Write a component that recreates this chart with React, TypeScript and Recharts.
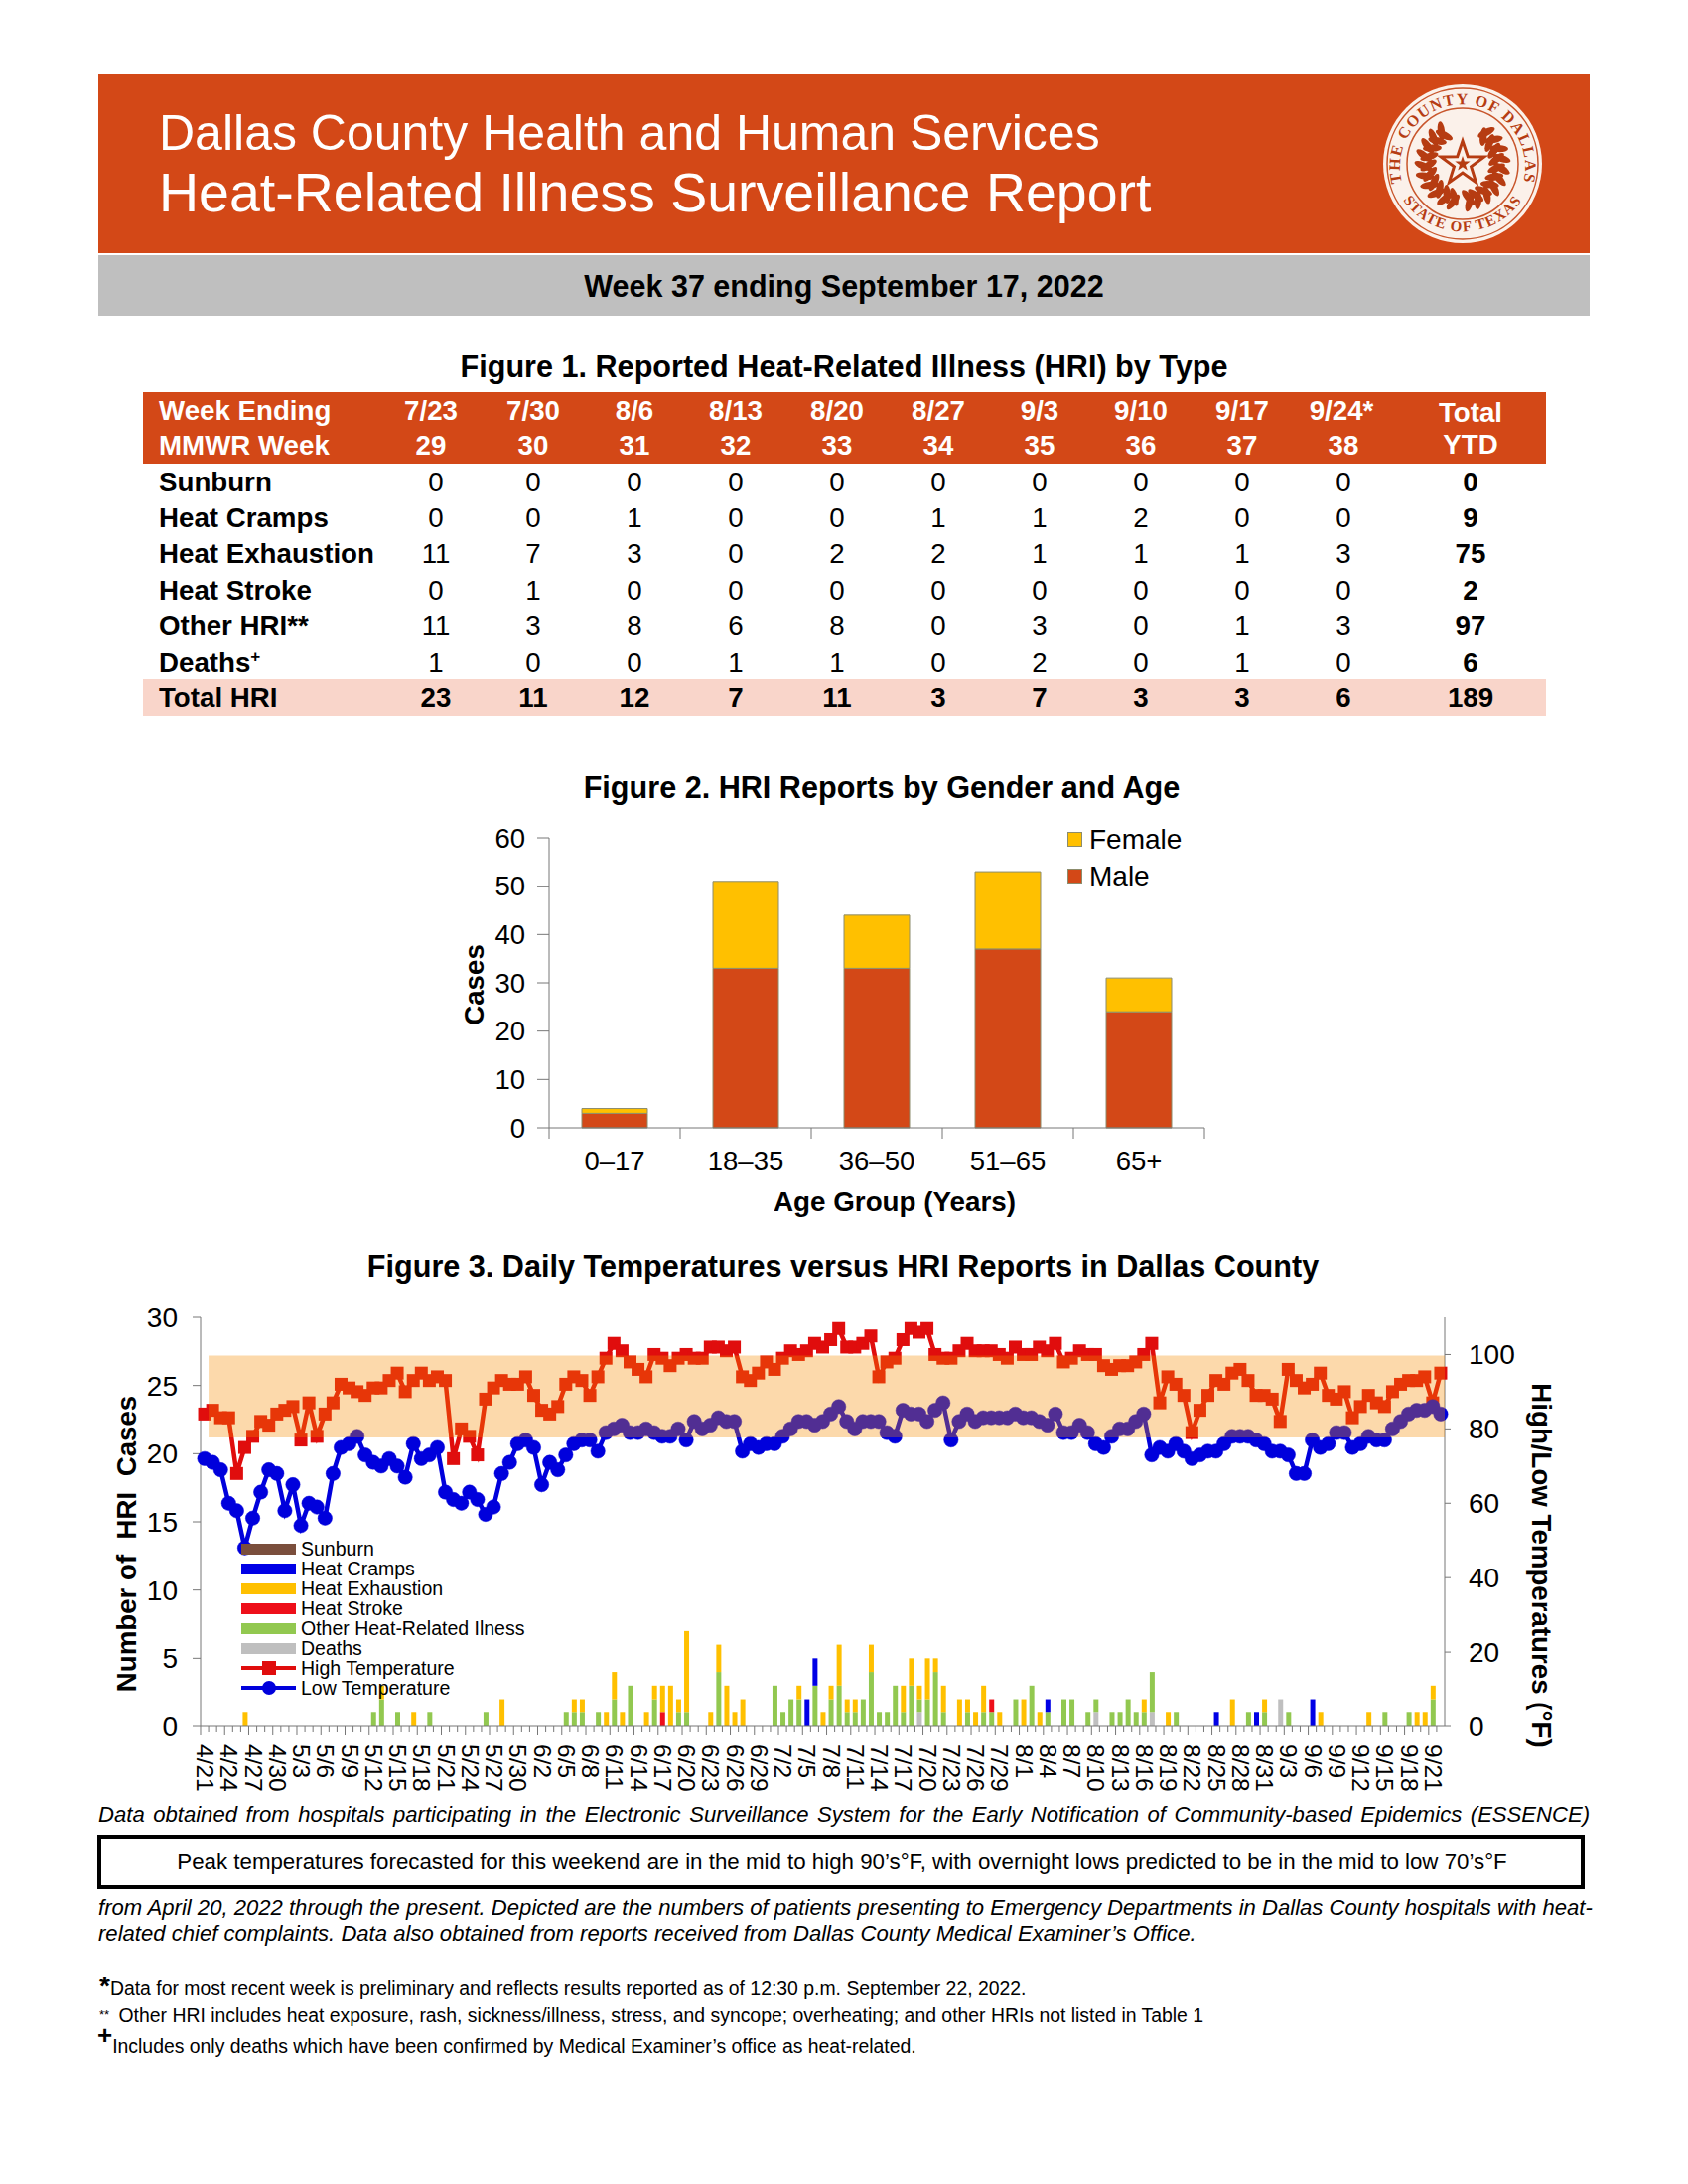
import React from "react";
import {
  BarChart,
  Bar,
  ComposedChart,
  Line,
  XAxis,
  YAxis,
  Legend,
  Label,
  ReferenceArea,
} from "recharts";

const FONT = '"Liberation Sans", Arial, sans-serif';
const ORANGE = "#D34817";
const AXIS = "#777777";

// Figure 1 table
const weekEnding = ["7/23", "7/30", "8/6", "8/13", "8/20", "8/27", "9/3", "9/10", "9/17", "9/24*"];
const mmwrWeek = ["29", "30", "31", "32", "33", "34", "35", "36", "37", "38"];
const rowSunburn = [0, 0, 0, 0, 0, 0, 0, 0, 0, 0, 0];
const rowCramps = [0, 0, 1, 0, 0, 1, 1, 2, 0, 0, 9];
const rowExhaustion = [11, 7, 3, 0, 2, 2, 1, 1, 1, 3, 75];
const rowStroke = [0, 1, 0, 0, 0, 0, 0, 0, 0, 0, 2];
const rowOther = [11, 3, 8, 6, 8, 0, 3, 0, 1, 3, 97];
const rowDeaths = [1, 0, 0, 1, 1, 0, 2, 0, 1, 0, 6];
const rowTotal = [23, 11, 12, 7, 11, 3, 7, 3, 3, 6, 189];

// Figure 2
const ageGroups = ["0–17", "18–35", "36–50", "51–65", "65+"];
const male = [3, 33, 33, 37, 24];
const female = [1, 18, 11, 16, 7];

// Figure 3
const days = [
  "4/21", "4/22", "4/23", "4/24", "4/25", "4/26", "4/27", "4/28", "4/29", "4/30",
  "5/1", "5/2", "5/3", "5/4", "5/5", "5/6", "5/7", "5/8", "5/9", "5/10",
  "5/11", "5/12", "5/13", "5/14", "5/15", "5/16", "5/17", "5/18", "5/19", "5/20",
  "5/21", "5/22", "5/23", "5/24", "5/25", "5/26", "5/27", "5/28", "5/29", "5/30",
  "5/31", "6/1", "6/2", "6/3", "6/4", "6/5", "6/6", "6/7", "6/8", "6/9",
  "6/10", "6/11", "6/12", "6/13", "6/14", "6/15", "6/16", "6/17", "6/18", "6/19",
  "6/20", "6/21", "6/22", "6/23", "6/24", "6/25", "6/26", "6/27", "6/28", "6/29",
  "6/30", "7/1", "7/2", "7/3", "7/4", "7/5", "7/6", "7/7", "7/8", "7/9",
  "7/10", "7/11", "7/12", "7/13", "7/14", "7/15", "7/16", "7/17", "7/18", "7/19",
  "7/20", "7/21", "7/22", "7/23", "7/24", "7/25", "7/26", "7/27", "7/28", "7/29",
  "7/30", "7/31", "8/1", "8/2", "8/3", "8/4", "8/5", "8/6", "8/7", "8/8",
  "8/9", "8/10", "8/11", "8/12", "8/13", "8/14", "8/15", "8/16", "8/17", "8/18",
  "8/19", "8/20", "8/21", "8/22", "8/23", "8/24", "8/25", "8/26", "8/27", "8/28",
  "8/29", "8/30", "8/31", "9/1", "9/2", "9/3", "9/4", "9/5", "9/6", "9/7",
  "9/8", "9/9", "9/10", "9/11", "9/12", "9/13", "9/14", "9/15", "9/16", "9/17",
  "9/18", "9/19", "9/20", "9/21", "9/22",
];
const highTemp = [
  84, 85, 83, 83, 68, 75, 78, 82, 81, 84,
  85, 86, 77, 87, 78, 84, 87, 92, 91, 90,
  89, 91, 91, 93, 95, 90, 93, 95, 93, 94,
  93, 72, 80, 78, 73, 88, 91, 93, 92, 92,
  94, 89, 85, 84, 86, 92, 94, 93, 89, 94,
  99, 103, 101, 98, 96, 94, 100, 99, 97, 99,
  100, 99, 99, 102, 102, 101, 102, 94, 93, 95,
  98, 96, 99, 101, 100, 101, 103, 102, 104, 107,
  102, 102, 103, 105, 94, 98, 99, 104, 107, 106,
  107, 100, 99, 99, 101, 103, 101, 101, 101, 100,
  99, 102, 100, 100, 102, 101, 103, 98, 99, 101,
  100, 100, 97, 96, 97, 97, 98, 100, 103, 87,
  94, 92, 89, 79, 85, 89, 93, 92, 95, 96,
  93, 89, 89, 88, 82, 96, 93, 91, 92, 95,
  89, 88, 90, 83, 86, 89, 87, 86, 90, 92,
  93, 93, 94, 87, 95,
];
const lowTemp = [
  72, 71, 69, 60, 58, 48, 56, 63, 69, 68,
  58, 65, 54, 60, 59, 56, 68, 75, 76, 78,
  73, 71, 70, 72, 70, 67, 76, 72, 73, 75,
  63, 61, 60, 63, 61, 57, 59, 68, 71, 76,
  77, 75, 65, 71, 69, 73, 76, 77, 77, 74,
  79, 80, 81, 79, 79, 80, 79, 78, 78, 80,
  77, 82, 80, 81, 83, 82, 82, 74, 76, 75,
  76, 76, 78, 80, 82, 82, 81, 82, 84, 86,
  82, 80, 82, 82, 82, 79, 78, 85, 84, 84,
  82, 85, 87, 77, 82, 84, 82, 83, 83, 83,
  83, 84, 83, 83, 82, 81, 84, 79, 79, 81,
  79, 76, 75, 78, 80, 80, 82, 84, 73, 75,
  74, 76, 74, 72, 73, 74, 74, 76, 78, 78,
  78, 77, 76, 74, 74, 73, 68, 68, 77, 75,
  76, 79, 79, 75, 76, 78, 77, 77, 80, 82,
  84, 85, 85, 86, 84,
];
const other = [
  0, 0, 0, 0, 0, 0, 0, 0, 0, 0,
  0, 0, 0, 0, 0, 0, 0, 0, 0, 0,
  0, 1, 2, 0, 1, 0, 0, 0, 1, 0,
  0, 0, 0, 0, 0, 1, 0, 0, 0, 0,
  0, 0, 0, 0, 0, 1, 1, 1, 0, 1,
  0, 2, 0, 3, 0, 0, 2, 0, 0, 1,
  1, 0, 0, 0, 4, 0, 0, 0, 0, 0,
  0, 3, 1, 2, 2, 0, 3, 0, 2, 3,
  1, 1, 2, 4, 1, 1, 3, 1, 3, 1,
  2, 4, 1, 0, 0, 1, 0, 1, 1, 0,
  0, 2, 0, 3, 0, 1, 0, 2, 2, 0,
  1, 1, 0, 1, 1, 2, 1, 1, 3, 0,
  0, 1, 0, 0, 0, 0, 0, 0, 0, 0,
  1, 0, 1, 0, 0, 1, 0, 0, 0, 0,
  0, 0, 0, 0, 0, 0, 0, 1, 0, 0,
  1, 0, 0, 2, 0,
];
const exhaustion = [
  0, 0, 0, 0, 0, 1, 0, 0, 0, 0,
  0, 0, 0, 0, 0, 0, 0, 0, 0, 0,
  0, 0, 1, 0, 0, 0, 1, 0, 0, 0,
  0, 0, 0, 0, 0, 0, 0, 2, 0, 0,
  0, 0, 0, 0, 0, 0, 1, 1, 0, 0,
  1, 2, 1, 0, 0, 1, 1, 2, 3, 1,
  6, 0, 0, 1, 2, 3, 1, 2, 0, 0,
  0, 0, 0, 0, 1, 0, 0, 1, 1, 3,
  1, 1, 0, 2, 0, 0, 0, 2, 2, 1,
  3, 1, 2, 0, 2, 1, 1, 2, 0, 1,
  0, 0, 2, 0, 1, 0, 0, 0, 0, 0,
  0, 0, 0, 0, 0, 0, 0, 1, 0, 0,
  1, 0, 0, 0, 0, 0, 0, 0, 2, 0,
  0, 0, 1, 0, 0, 0, 0, 0, 0, 1,
  0, 0, 0, 0, 0, 1, 0, 0, 0, 0,
  0, 1, 1, 1, 0,
];
const cramps = [
  0, 0, 0, 0, 0, 0, 0, 0, 0, 0,
  0, 0, 0, 0, 0, 0, 0, 0, 0, 0,
  0, 0, 0, 0, 0, 0, 0, 0, 0, 0,
  0, 0, 0, 0, 0, 0, 0, 0, 0, 0,
  0, 0, 0, 0, 0, 0, 0, 0, 0, 0,
  0, 0, 0, 0, 0, 0, 0, 0, 0, 0,
  0, 0, 0, 0, 0, 0, 0, 0, 0, 0,
  0, 0, 0, 0, 0, 2, 2, 0, 0, 0,
  0, 0, 0, 0, 0, 0, 0, 0, 0, 0,
  0, 0, 0, 0, 0, 0, 0, 0, 0, 0,
  0, 0, 0, 0, 0, 1, 0, 0, 0, 0,
  0, 0, 0, 0, 0, 0, 0, 0, 0, 0,
  0, 0, 0, 0, 0, 0, 1, 0, 0, 0,
  0, 1, 0, 0, 0, 0, 0, 0, 2, 0,
  0, 0, 0, 0, 0, 0, 0, 0, 0, 0,
  0, 0, 0, 0, 0,
];
const stroke = [
  0, 0, 0, 0, 0, 0, 0, 0, 0, 0,
  0, 0, 0, 0, 0, 0, 0, 0, 0, 0,
  0, 0, 0, 0, 0, 0, 0, 0, 0, 0,
  0, 0, 0, 0, 0, 0, 0, 0, 0, 0,
  0, 0, 0, 0, 0, 0, 0, 0, 0, 0,
  0, 0, 0, 0, 0, 0, 0, 1, 0, 0,
  0, 0, 0, 0, 0, 0, 0, 0, 0, 0,
  0, 0, 0, 0, 0, 0, 0, 0, 0, 0,
  0, 0, 0, 0, 0, 0, 0, 0, 0, 0,
  0, 0, 0, 0, 0, 0, 0, 0, 1, 0,
  0, 0, 0, 0, 0, 0, 0, 0, 0, 0,
  0, 0, 0, 0, 0, 0, 0, 0, 0, 0,
  0, 0, 0, 0, 0, 0, 0, 0, 0, 0,
  0, 0, 0, 0, 0, 0, 0, 0, 0, 0,
  0, 0, 0, 0, 0, 0, 0, 0, 0, 0,
  0, 0, 0, 0, 0,
];
const deaths = [
  0, 0, 0, 0, 0, 0, 0, 0, 0, 0,
  0, 0, 0, 0, 0, 0, 0, 0, 0, 0,
  0, 0, 0, 0, 0, 0, 0, 0, 0, 0,
  0, 0, 0, 0, 0, 0, 0, 0, 0, 0,
  0, 0, 0, 0, 0, 0, 0, 0, 0, 0,
  0, 0, 0, 0, 0, 0, 0, 0, 0, 0,
  0, 0, 0, 0, 0, 0, 0, 0, 0, 0,
  0, 0, 0, 0, 0, 0, 0, 0, 0, 0,
  0, 0, 0, 0, 0, 0, 0, 0, 0, 1,
  0, 0, 0, 0, 0, 0, 0, 0, 0, 0,
  0, 0, 0, 0, 0, 0, 0, 0, 0, 0,
  0, 1, 0, 0, 0, 0, 0, 0, 1, 0,
  0, 0, 0, 0, 0, 0, 0, 0, 0, 0,
  0, 0, 0, 0, 2, 0, 0, 0, 0, 0,
  0, 0, 0, 0, 0, 0, 0, 0, 0, 0,
  0, 0, 0, 0, 0,
];
const sunburn = days.map(() => 0);

const genderData = ageGroups.map((age, i) => ({ age, male: male[i], female: female[i] }));
const dailyData = days.map((day, i) => ({
  day,
  sunburn: sunburn[i],
  cramps: cramps[i],
  exhaustion: exhaustion[i],
  stroke: stroke[i],
  other: other[i],
  deaths: deaths[i],
  high: highTemp[i],
  low: lowTemp[i],
}));

const legendOrder = [
  "Sunburn",
  "Heat Cramps",
  "Heat Exhaustion",
  "Heat Stroke",
  "Other Heat-Related Ilness",
  "Deaths",
  "High Temperature",
  "Low Temperature",
];

function T({ x, y, size, bold, italic, middle, color = "#000", wordSpacing, children }: any) {
  return (
    <div
      style={{
        position: "absolute",
        left: x,
        top: y,
        transform: middle ? "translate(-50%, -50%)" : "translateY(-50%)",
        fontFamily: FONT,
        fontSize: size,
        fontWeight: bold ? 700 : 400,
        fontStyle: italic ? "italic" : "normal",
        color,
        wordSpacing,
        whiteSpace: "nowrap",
        lineHeight: 1,
      }}
    >
      {children}
    </div>
  );
}

function Box({ x, y, w, h, fill }: any) {
  return <div style={{ position: "absolute", left: x, top: y, width: w, height: h, background: fill }} />;
}

function Seal() {
  const star = Array.from({ length: 10 }, (_, i) => {
    const r = i % 2 === 0 ? 23 : 9;
    const a = (i * Math.PI) / 5 - Math.PI / 2;
    return `${r * Math.cos(a)},${r * Math.sin(a)}`;
  }).join(" ");
  const leaves = [35, 50, 65, 80, 95, 110, 125, 140, 155, 168];
  const leaf = (deg: number, tilt: number, key: string) => (
    <ellipse key={key} cx={0} cy={-37} rx={3.6} ry={9.5} fill="#B63C12" transform={`rotate(${deg}) rotate(${tilt} 0 -37) translate(0 ${tilt > 0 ? -3 : 3})`} />
  );
  return (
    <svg width={164} height={164} viewBox="-82 -82 164 164" style={{ position: "absolute", left: 1391, top: 83 }}>
      <circle r={80} fill="#FBF1EA" />
      <circle r={76} fill="none" stroke="#C8552B" strokeWidth={1.5} />
      <circle r={56} fill="none" stroke="#C8552B" strokeWidth={1.5} />
      <defs>
        <path id="sealTop" d="M -57 30 A 63 63 0 1 1 57 30" />
        <path id="sealBottom" d="M -62 33 A 72 72 0 0 0 62 33" />
      </defs>
      <text fontFamily="Liberation Serif" fontWeight={700} fontSize={16} fill="#B63C12" letterSpacing={1.4}>
        <textPath href="#sealTop" startOffset="50%" textAnchor="middle">THE COUNTY OF DALLAS</textPath>
      </text>
      <text fontFamily="Liberation Serif" fontWeight={700} fontSize={15} fill="#B63C12" letterSpacing={1.2}>
        <textPath href="#sealBottom" startOffset="50%" textAnchor="middle">STATE OF TEXAS</textPath>
      </text>
      {leaves.map((deg) => (
        <g key={deg}>
          {leaf(deg, 28, "a")}
          {leaf(deg, -28, "b")}
          {leaf(-deg, 28, "c")}
          {leaf(-deg, -28, "d")}
        </g>
      ))}
      <polygon points={star} fill="#FBF1EA" stroke="#B63C12" strokeWidth={3} />
      <polygon points={star} fill="#B63C12" transform="scale(0.35)" />
    </svg>
  );
}

const columnX = [439, 537, 639, 741, 843, 945, 1047, 1149, 1251, 1353, 1481];

function TableRow({ label, values, y, bold }: any) {
  return (
    <>
      <T x={160} y={y} size={27.7} bold>{label}</T>
      {values.map((v: number, i: number) => (
        <T key={i} x={columnX[i]} y={y} size={27.7} middle bold={bold || i === 10}>{v}</T>
      ))}
    </>
  );
}

function GenderTick({ x, y, payload, index }: any) {
  const half = 66;
  const top = y - 8;
  return (
    <g>
      <line x1={x - half} x2={x - half} y1={top} y2={top + 11} stroke={AXIS} />
      {index === ageGroups.length - 1 && <line x1={x + half} x2={x + half} y1={top} y2={top + 11} stroke={AXIS} />}
      <text x={x} y={y + 35} textAnchor="middle" fontFamily={FONT} fontSize={27.5} fill="#000">
        {payload.value}
      </text>
    </g>
  );
}

function DayTick({ x, y, payload, index }: any) {
  const half = 4.05;
  const major = index % 3 === 0;
  const top = y - 8;
  return (
    <g>
      <line x1={x - half} x2={x - half} y1={top} y2={top + (major ? 9 : 6)} stroke={AXIS} />
      {major && (
        <text
          transform={`translate(${x - 8},${y + 10}) rotate(90)`}
          fontFamily={FONT}
          fontSize={24.5}
          fill="#000"
        >
          {payload.value}
        </text>
      )}
    </g>
  );
}

function SquareDot({ cx, cy, index }: any) {
  return <rect key={index} x={cx - 6.5} y={cy - 6.5} width={13} height={13} fill="#E00D0D" />;
}

function axisTitle(text: string, dx: number, dy: number, angle: number) {
  return (p: any) => {
    const vb = p.viewBox;
    const tx = vb.x + dx;
    const ty = vb.y + vb.height / 2 + dy;
    return (
      <text
        transform={`translate(${tx},${ty}) rotate(${angle})`}
        textAnchor="middle"
        dominantBaseline="central"
        fontFamily={FONT}
        fontWeight={700}
        fontSize={27.7}
        fill="#000"
      >
        {text}
      </text>
    );
  };
}

function GenderLegend({ payload }: any) {
  return (
    <div>
      {["Female", "Male"].map((name) => {
        const item = (payload || []).find((p: any) => p.value === name);
        return (
          <div key={name} style={{ display: "flex", alignItems: "center", height: 37, fontFamily: FONT, fontSize: 28 }}>
            <span style={{ width: 15, height: 15, marginRight: 7, background: item?.color, boxSizing: "border-box", border: "1px solid #8c8c6c" }} />
            <span style={{ color: "#000" }}>{name}</span>
          </div>
        );
      })}
    </div>
  );
}

function DailyLegend({ payload }: any) {
  return (
    <div>
      {legendOrder.map((name) => {
        const item = (payload || []).find((p: any) => p.value === name);
        const isLine = name.endsWith("Temperature");
        return (
          <div key={name} style={{ display: "flex", alignItems: "center", height: 19.9, fontFamily: FONT, fontSize: 19.5, color: "#000" }}>
            <span style={{ position: "relative", display: "inline-block", width: 55, height: 11, marginRight: 5 }}>
              {isLine ? (
                <>
                  <span style={{ position: "absolute", left: 0, right: 0, top: 3.5, height: 4, background: item?.color }} />
                  <span
                    style={{
                      position: "absolute",
                      left: 21,
                      top: -2,
                      width: 14,
                      height: 14,
                      background: item?.color,
                      borderRadius: name.startsWith("Low") ? "50%" : 0,
                    }}
                  />
                </>
              ) : (
                <span style={{ position: "absolute", inset: 0, background: item?.color }} />
              )}
            </span>
            {name}
          </div>
        );
      })}
    </div>
  );
}

function GenderChart() {
  return (
    <div style={{ position: "absolute", left: 441, top: 820 }}>
      <BarChart width={800} height={420} data={genderData} margin={{ top: 24, right: 28, bottom: 0, left: 0 }} barCategoryGap="25%">
        <XAxis dataKey="age" height={104} interval={0} tickLine={false} stroke={AXIS} tick={GenderTick}>
          <Label content={(p: any) => (
            <text x={460} y={p.viewBox.y + 74} textAnchor="middle" dominantBaseline="central" fontFamily={FONT} fontWeight={700} fontSize={27.8} fill="#000">
              Age Group (Years)
            </text>
          )} />
        </XAxis>
        <YAxis
          width={112}
          domain={[0, 60]}
          ticks={[0, 10, 20, 30, 40, 50, 60]}
          stroke={AXIS}
          tickSize={12}
          tickMargin={12}
          tick={{ fontFamily: FONT, fontSize: 27.5, fill: "#000" }}
        >
          <Label content={axisTitle("Cases", 36, 2, -90)} />
        </YAxis>
        <Legend
          layout="vertical"
          align="center"
          verticalAlign="middle"
          content={GenderLegend}
          wrapperStyle={{ left: 634, top: 7, width: 150 }}
        />
        <Bar dataKey="male" name="Male" stackId="a" fill={ORANGE} stroke="#8c8c6c" isAnimationActive={false} />
        <Bar dataKey="female" name="Female" stackId="a" fill="#FFC000" stroke="#8c8c6c" isAnimationActive={false} />
      </BarChart>
    </div>
  );
}

function DailyChart() {
  return (
    <div style={{ position: "absolute", left: 60, top: 1300 }}>
      <ComposedChart width={1540} height={520} data={dailyData} margin={{ top: 27, right: 0, bottom: 0, left: 0 }}>
        <XAxis dataKey="day" height={81} interval={0} tickLine={false} stroke={AXIS} tick={DayTick} />
        <YAxis
          yAxisId="cases"
          width={142}
          domain={[0, 30]}
          ticks={[0, 5, 10, 15, 20, 25, 30]}
          stroke={AXIS}
          tickSize={8}
          tickMargin={15}
          tick={{ fontFamily: FONT, fontSize: 28, fill: "#000" }}
        >
          <Label content={axisTitle("Number of\u00a0 HRI\u00a0 Cases", 67, 22, -90)} />
        </YAxis>
        <YAxis
          yAxisId="temp"
          orientation="right"
          width={145}
          domain={[0, 110]}
          ticks={[0, 20, 40, 60, 80, 100]}
          stroke={AXIS}
          tickSize={6}
          tickMargin={18}
          tick={{ fontFamily: FONT, fontSize: 28, fill: "#000" }}
        >
          <Label content={axisTitle("High/Low Temperatures (°F)", 97, 44, 90)} />
        </YAxis>
        <Legend
          layout="vertical"
          align="center"
          verticalAlign="middle"
          content={DailyLegend}
          wrapperStyle={{ left: 183, top: 251, width: 300 }}
        />
        <Bar yAxisId="cases" dataKey="deaths" name="Deaths" stackId="d" fill="#BFBFBF" barSize={5} isAnimationActive={false} />
        <Bar yAxisId="cases" dataKey="other" name="Other Heat-Related Ilness" stackId="d" fill="#92C850" barSize={5} isAnimationActive={false} />
        <Bar yAxisId="cases" dataKey="stroke" name="Heat Stroke" stackId="d" fill="#EE0F1A" barSize={5} isAnimationActive={false} />
        <Bar yAxisId="cases" dataKey="exhaustion" name="Heat Exhaustion" stackId="d" fill="#FFC000" barSize={5} isAnimationActive={false} />
        <Bar yAxisId="cases" dataKey="cramps" name="Heat Cramps" stackId="d" fill="#0000E6" barSize={5} isAnimationActive={false} />
        <Bar yAxisId="cases" dataKey="sunburn" name="Sunburn" stackId="d" fill="#7A4E3C" barSize={5} isAnimationActive={false} />
        <Line yAxisId="temp" dataKey="high" name="High Temperature" stroke="#E00D0D" strokeWidth={4.5} dot={SquareDot} isAnimationActive={false} />
        <Line yAxisId="temp" dataKey="low" name="Low Temperature" stroke="#0000DC" strokeWidth={4.5} dot={{ r: 7.2, fill: "#0000DC", stroke: "#0000DC", strokeWidth: 0.5 }} isAnimationActive={false} />
        <ReferenceArea
          yAxisId="temp"
          x1="4/22"
          y1={77.7}
          y2={99.7}
          fill="#F58C00"
          fillOpacity={0.33}
          stroke="none"
          ifOverflow="visible"
          {...({ zIndex: 900 } as any)}
        />
      </ComposedChart>
    </div>
  );
}

export default function App() {
  return (
    <div style={{ position: "absolute", left: 0, top: 0, width: 1700, height: 2200, background: "#fff", overflow: "hidden" }}>
      <Box x={99} y={75} w={1502} h={180} fill={ORANGE} />
      <Box x={99} y={257} w={1502} h={61} fill="#BFBFBF" />
      <T x={160} y={134} size={50} color="#fff">Dallas County Health and Human Services</T>
      <T x={160} y={195} size={55.5} color="#fff">Heat-Related Illness Surveillance Report</T>
      <Seal />
      <T x={850} y={288} size={30.5} bold middle>Week 37 ending September 17, 2022</T>

      <T x={850} y={369} size={30.6} bold middle>Figure 1. Reported Heat-Related Illness (HRI) by Type</T>
      <Box x={144} y={395} w={1413} h={72} fill={ORANGE} />
      <Box x={144} y={684} w={1413} h={37} fill="#F9D5CA" />
      <T x={160} y={414} size={27.7} bold color="#fff">Week Ending</T>
      <T x={160} y={449} size={27.7} bold color="#fff">MMWR Week</T>
      {weekEnding.map((w, i) => (
        <T key={w} x={columnX[i] - (i === 0 ? 5 : i === 9 ? 2 : 0)} y={414} size={27.7} bold middle color="#fff">{w}</T>
      ))}
      {mmwrWeek.map((w, i) => (
        <T key={w} x={columnX[i] - (i === 0 ? 5 : 0)} y={449} size={27.7} bold middle color="#fff">{w}</T>
      ))}
      <T x={1481} y={416} size={27.7} bold middle color="#fff">Total</T>
      <T x={1481} y={448} size={27.7} bold middle color="#fff">YTD</T>
      <TableRow label="Sunburn" values={rowSunburn} y={486} />
      <TableRow label="Heat Cramps" values={rowCramps} y={522} />
      <TableRow label="Heat Exhaustion" values={rowExhaustion} y={558} />
      <TableRow label="Heat Stroke" values={rowStroke} y={595} />
      <TableRow label="Other HRI**" values={rowOther} y={631} />
      <TableRow label={<>Deaths<sup style={{ fontSize: 17, lineHeight: 0 }}>+</sup></>} values={rowDeaths} y={668} />
      <TableRow label="Total HRI" values={rowTotal} y={703} bold />

      <T x={888} y={793} size={30.6} bold middle>Figure 2. HRI Reports by Gender and Age</T>
      <GenderChart />

      <T x={849} y={1275} size={30.6} bold middle>Figure 3. Daily Temperatures versus HRI Reports in Dallas County</T>
      <DailyChart />

      <T x={99} y={1828} size={22.1} italic wordSpacing={2.4}>Data obtained from hospitals participating in the Electronic Surveillance System for the Early Notification of Community-based Epidemics (ESSENCE)</T>
      <div style={{ position: "absolute", left: 98, top: 1848, width: 1498, height: 55, boxSizing: "border-box", border: "4px solid #000" }} />
      <T x={848} y={1876} size={22.3} middle>Peak temperatures forecasted for this weekend are in the mid to high 90’s°F, with overnight lows predicted to be in the mid to low 70’s°F</T>
      <T x={99} y={1922} size={22.1} italic>from April 20, 2022 through the present. Depicted are the numbers of patients presenting to Emergency Departments in Dallas County hospitals with heat-</T>
      <T x={99} y={1948} size={22.1} italic>related chief complaints. Data also obtained from reports received from Dallas County Medical Examiner’s Office.</T>
      <T x={100} y={2004} size={19.4}><span style={{ fontSize: 28, fontWeight: 700, lineHeight: 0 }}>*</span>Data for most recent week is preliminary and reflects results reported as of 12:30 p.m. September 22, 2022.</T>
      <T x={100} y={2031} size={19.4}><span style={{ fontSize: 13, verticalAlign: 3, marginRight: 4 }}>**</span> Other HRI includes heat exposure, rash, sickness/illness, stress, and syncope; overheating; and other HRIs not listed in Table 1</T>
      <T x={98} y={2062} size={19.4}><span style={{ fontSize: 26, fontWeight: 700, position: "relative", top: -9, lineHeight: 0 }}>+</span>Includes only deaths which have been confirmed by Medical Examiner’s office as heat-related.</T>
    </div>
  );
}
